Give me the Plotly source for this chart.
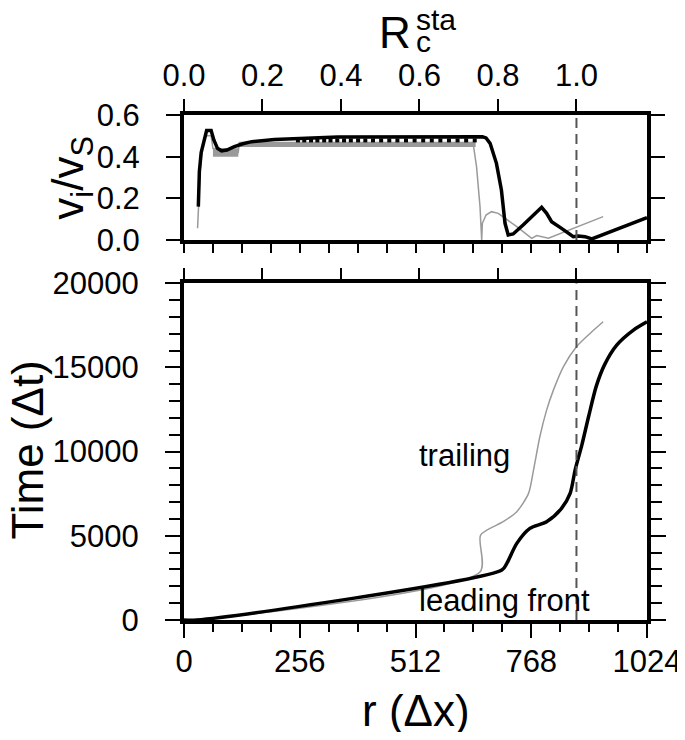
import plotly.graph_objects as go

# ---- data ----
R_CRIT = 868  # r (dx) where R_c^sta = 1

# top panel: front velocity v_i / v_S
lead_v_r = [31.7, 34, 38, 44, 50, 60, 66, 74, 83, 95, 110, 130, 150, 200, 260, 340,
            660, 668, 677, 691, 702, 710, 717, 728, 750, 780, 791, 802, 813, 835,
            855, 861, 872, 887, 902, 1024]
lead_v = [0.16, 0.33, 0.42, 0.48, 0.525, 0.525, 0.48, 0.44, 0.428, 0.432, 0.447, 0.462,
          0.472, 0.482, 0.488, 0.494, 0.495, 0.49, 0.464, 0.368, 0.24, 0.08, 0.024,
          0.029, 0.072, 0.135, 0.157, 0.128, 0.088, 0.056, 0.025, 0.016, 0.019, 0.016,
          0.005, 0.107]
# notches hanging under the leading-front plateau
lead_teeth_r = [252, 266, 281, 295, 310, 324, 339, 354, 369, 385, 401, 418, 436, 454,
                472, 491, 510, 529, 548, 567, 586, 605, 624, 643]
lead_teeth_v = [0.478] * len(lead_teeth_r)

trail_v_r = [30, 33, 36, 40, 48, 60, 64, 120, 122, 640, 647, 654.7, 658.4, 659.9, 668,
             680, 695, 736, 769, 780, 806, 927]
trail_v = [0.056, 0.2, 0.34, 0.44, 0.5, 0.5, 0.44, 0.42, 0.46, 0.455, 0.352, 0.16, 0.0,
           0.08, 0.12, 0.136, 0.128, 0.064, 0.008, 0.021, 0.008, 0.112]
# envelope of the fast oscillation of the trailing front
band_r = [64, 120, 121, 645]
band_hi = [0.44, 0.44, 0.472, 0.472]
band_lo = [0.40, 0.40, 0.446, 0.446]

# bottom panel: arrival time
lead_t_r = [0, 28, 703, 714, 736, 765, 802, 835, 854, 865, 880, 895, 912, 930, 957, 994, 1024]
lead_t = [0, 0, 2967, 3363, 4550, 5440, 5835, 6627, 7518, 8903, 10400, 12100, 13900,
          15150, 16321, 17212, 17706]
trail_t_r = [0, 28, 655, 656, 706, 736, 762, 773, 787, 802, 817, 839, 868, 898, 927]
trail_t = [0, 0, 2868, 5045, 5835, 6430, 7518, 8903, 10880, 12463, 13650, 15035, 16222,
           17014, 17706]

r_ticks = [0, 256, 512, 768, 1024]
R_ticks = [0.0, 0.2, 0.4, 0.6, 0.8, 1.0]
v_ticks = [0.0, 0.2, 0.4, 0.6]
t_ticks = [0, 5000, 10000, 15000, 20000]

FONT = "Liberation Sans"
GRAY = "#9a9a9a"

fig = go.Figure()

# top panel
fig.add_trace(go.Scatter(x=band_r + band_r[::-1], y=band_hi + band_lo[::-1], fill="toself",
                         fillcolor=GRAY, line=dict(width=0), mode="lines",
                         xaxis="x2", yaxis="y2"))
fig.add_trace(go.Scatter(x=trail_v_r, y=trail_v, mode="lines", line=dict(color=GRAY, width=1.5),
                         xaxis="x2", yaxis="y2"))
fig.add_trace(go.Scatter(x=lead_v_r, y=lead_v, mode="lines", line=dict(color="black", width=3.5),
                         xaxis="x2", yaxis="y2"))
fig.add_trace(go.Scatter(x=lead_teeth_r, y=lead_teeth_v, mode="markers",
                         marker=dict(symbol="square", size=4, color="black", line=dict(width=0)),
                         xaxis="x2", yaxis="y2"))
fig.add_trace(go.Scatter(x=[1, 1], y=[v_ticks[0], v_ticks[-1]], mode="lines",
                         line=dict(color="#555555", width=2, dash="10px,6px"),
                         xaxis="x3", yaxis="y2"))

# bottom panel
fig.add_trace(go.Scatter(x=trail_t_r, y=trail_t, mode="lines",
                         line=dict(color=GRAY, width=1.5, shape="spline", smoothing=0.7),
                         xaxis="x", yaxis="y"))
fig.add_trace(go.Scatter(x=lead_t_r, y=lead_t, mode="lines",
                         line=dict(color="black", width=3.5, shape="spline", smoothing=0.8),
                         xaxis="x", yaxis="y"))
fig.add_trace(go.Scatter(x=[1, 1], y=[t_ticks[0], t_ticks[-1]], mode="lines",
                         line=dict(color="#555555", width=2, dash="10px,6px"),
                         xaxis="x4", yaxis="y"))

axis_common = dict(showgrid=False, zeroline=False, ticks="outside", tickcolor="black",
                   tickwidth=2, linecolor="black", linewidth=4, automargin=False,
                   tickfont=dict(family=FONT, size=31, color="black"))

# the page body adds an 8px offset, so the figure is smaller than the window
fig.update_layout(
    width=677, height=724,
    margin=dict(l=176, r=38, t=107, b=112),
    plot_bgcolor="white", paper_bgcolor="white",
    showlegend=False,
    font=dict(family=FONT, color="black"),
    xaxis=dict(axis_common, domain=[0, 1], anchor="y", range=[0, 1024], tickvals=r_ticks,
               ticklen=14, showline=True, mirror=True, ticklabelstandoff=-3,
               minor=dict(dtick=64, tick0=0, ticks="outside", ticklen=8, tickwidth=2,
                          tickcolor="black")),
    xaxis2=dict(axis_common, anchor="y2", matches="x", range=[0, 1024], dtick=64, tick0=0,
                ticklen=9, showline=True, mirror=True, showticklabels=False),
    xaxis3=dict(axis_common, overlaying="x2", anchor="y2", side="top",
                range=[0, 1024 / R_CRIT], tickvals=R_ticks, tickformat=".1f", ticklen=15,
                showline=False, ticklabelstandoff=1),
    xaxis4=dict(axis_common, overlaying="x", anchor="y", side="top",
                range=[0, 1024 / R_CRIT], tickvals=R_ticks, ticklen=14, showline=False,
                showticklabels=False),
    yaxis=dict(axis_common, domain=[0, 0.667], anchor="x", range=[0, 20000], tickvals=t_ticks,
               tickformat="d", ticklen=15, showline=True, mirror="ticks", ticklabelstandoff=20,
               minor=dict(dtick=1000, ticks="outside", ticklen=11, tickwidth=2,
                          tickcolor="black")),
    yaxis2=dict(axis_common, domain=[0.7525, 1], anchor="x2", range=[0, 0.6],
                tickvals=v_ticks, tickformat=".1f", ticklen=14, showline=True, mirror="ticks",
                ticklabelstandoff=20),
)

big = dict(family=FONT, size=44, color="black")
mid = dict(xanchor="center", yanchor="middle", showarrow=False, xref="paper", yref="paper")
fig.add_annotation(text="Time (Δt)", x=-0.338, y=0.3366, textangle=-90, font=big, **mid)
fig.add_annotation(text="v<sub>i</sub>/v<sub>S</sub>", x=-0.244, y=0.876, textangle=-90,
                   font=big, **mid)
fig.add_annotation(text="r (Δx)", x=0.5, y=-0.18, font=big, **mid)
fig.add_annotation(text="R", x=0.4557, y=1.164, font=big, **mid)
fig.add_annotation(text="sta", x=0.4968, y=1.19, xanchor="left", yanchor="middle",
                   xref="paper", yref="paper", showarrow=False,
                   font=dict(family=FONT, size=30, color="black"))
fig.add_annotation(text="c", x=0.4968, y=1.1446, xanchor="left", yanchor="middle",
                   xref="paper", yref="paper", showarrow=False,
                   font=dict(family=FONT, size=30, color="black"))

fig.add_annotation(text="trailing", x=515, y=9793, xref="x", yref="y", xanchor="left",
                   yanchor="middle", showarrow=False,
                   font=dict(family=FONT, size=31, color="black"))
fig.add_annotation(text="leading front", x=515, y=1187, xref="x", yref="y", xanchor="left",
                   yanchor="middle", showarrow=False,
                   font=dict(family=FONT, size=31, color="black"))

fig.write_html("out.html")
